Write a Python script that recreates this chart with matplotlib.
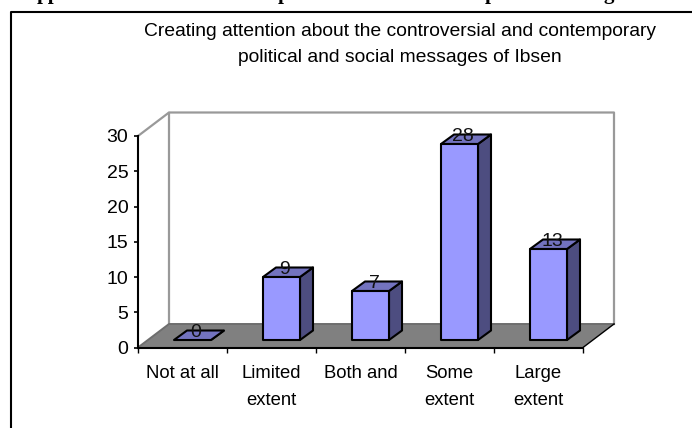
import matplotlib
matplotlib.use("Agg")
import matplotlib.pyplot as plt
from matplotlib.patches import Polygon

W, H = 692, 428
categories = ["Not at all", "Limited\nextent", "Both and", "Some\nextent", "Large\nextent"]
values = [0, 9, 7, 28, 13]
y_ticks = [0, 5, 10, 15, 20, 25, 30]
title = "Creating attention about the controversial and contemporary\npolitical and social messages of Ibsen"
clipped_heading = [("pp", 48), ("p", 284), ("p", 491), ("g", 609)]

plt.rcParams["font.family"] = ["Liberation Sans", "DejaVu Sans"]
fig = plt.figure(figsize=(W / 100, H / 100), dpi=100, facecolor="white")
ax = fig.add_axes([138 / W, 1 - 347.5 / H, (583 - 138) / W, (347.5 - 136) / H])
ax.set_xlim(-0.5, 4.5)
ax.set_ylim(0, 30)
ax.patch.set_alpha(0)

px_x = 5 / (583 - 138)      # category units per pixel
px_y = 30 / (347.5 - 136)   # value units per pixel
wall_dx, wall_dy = 31 * px_x, 23.5 * px_y

# floor and walls
x0, x1 = ax.get_xlim()
ymax = ax.get_ylim()[1]
ax.add_patch(Polygon([(x0, 0), (x1, 0), (x1 + wall_dx, wall_dy), (x0 + wall_dx, wall_dy)],
                     closed=True, fc="#808080", ec="none", clip_on=False, zorder=1))
grey = dict(color="#999999", lw=1.6, clip_on=False, zorder=1.5, solid_capstyle="projecting")
ax.plot([x0, x0 + wall_dx, x1 + wall_dx, x1 + wall_dx],
        [ymax, ymax + wall_dy, ymax + wall_dy, wall_dy], **grey)
ax.plot([x0 + wall_dx, x0 + wall_dx], [wall_dy, ymax + wall_dy], **grey)
ax.plot([x0, x0 + wall_dx, x1 + wall_dx], [0, wall_dy, wall_dy], color="#6e6e6e", lw=1.4,
        clip_on=False, zorder=1.6)
ax.plot([x1, x1 + wall_dx], [0, wall_dy], color="black", lw=1.0, clip_on=False, zorder=1.6)

# bars
bar_w = 37 * px_x
bar_dx, bar_dy = 13 * px_x, 9.5 * px_y
shift = 10 * px_x
base = 7.5 * px_y
scale = 7.0 / 7.05
edge = dict(ec="black", lw=1.5, joinstyle="round", clip_on=False, zorder=3)
for i, v in enumerate(values):
    l = i - bar_w / 2 + shift
    r = l + bar_w
    b = base
    t = base + v * scale
    ax.add_patch(Polygon([(r, b), (r + bar_dx, b + bar_dy), (r + bar_dx, t + bar_dy), (r, t)],
                         closed=True, fc="#4D4D80", **edge))
    ax.add_patch(Polygon([(l, t), (r, t), (r + bar_dx, t + bar_dy), (l + bar_dx, t + bar_dy)],
                         closed=True, fc="#7373BF", **edge))
    if v > 0:
        ax.add_patch(Polygon([(l, b), (r, b), (r, t), (l, t)], closed=True, fc="#9999FF", **edge))
    ax.annotate(str(v), (i + shift, t), xytext=(3.5 * 0.72, 7.5 * 0.72), textcoords="offset points",
                ha="center", va="center", fontsize=14, color="#111111", zorder=4,
                annotation_clip=False)

# axes
for s in ("top", "right"):
    ax.spines[s].set_visible(False)
for s in ("left", "bottom"):
    ax.spines[s].set_linewidth(1.5)
    ax.spines[s].set_zorder(5)
ax.set_yticks(y_ticks)
ax.set_xticks([-0.5, 0.5, 1.5, 2.5, 3.5, 4.5])
ax.set_xticklabels([])
ax.tick_params(axis="y", length=3, width=1.2, labelsize=14, pad=4)
ax.tick_params(axis="x", length=3.5, width=1.0)
for i, c in enumerate(categories):
    ax.annotate(c, (i, 0), xytext=(0, -18 * 0.72), textcoords="offset points", ha="center",
                va="top", fontsize=13.3, linespacing=1.76, annotation_clip=False)

# title, frame, clipped heading
fig.text(400 / W, 1 - 44.5 / H, title, ha="center", va="center", fontsize=13.9, linespacing=1.74)
fig.add_artist(plt.Line2D([10.5 / W, 10.5 / W, 1], [0, 1 - 11.5 / H, 1 - 11.5 / H],
                          color="black", lw=1.5, transform=fig.transFigure))
for s, xp in clipped_heading:
    fig.text(xp / W, 1 + 1 / H, s, ha="center", va="baseline", fontsize=15,
             fontweight="bold", family="Liberation Serif")

fig.savefig("out.png", dpi=100)
